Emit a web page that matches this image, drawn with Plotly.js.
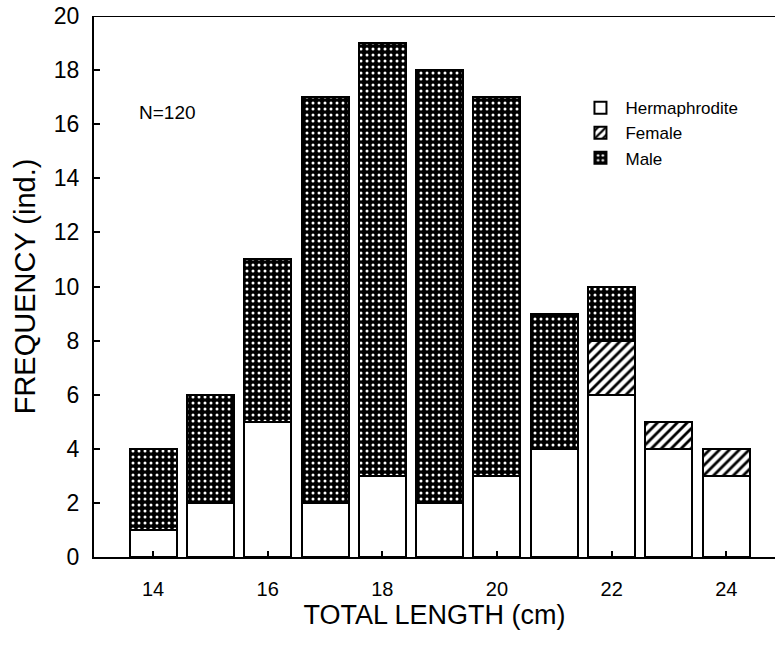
<!DOCTYPE html>
<html>
<head>
<meta charset="utf-8">
<script src="https://cdn.plot.ly/plotly-3.0.1.min.js"></script>
<style>html,body{margin:0;padding:0;background:#fff;}#chart{width:780px;height:649px;}</style>
</head>
<body>
<div id="chart"></div>
<script>
const lengths = [14, 15, 16, 17, 18, 19, 20, 21, 22, 23, 24];
const hermaphrodite = [1, 2, 5, 2, 3, 2, 3, 4, 6, 4, 3];
const female = [0, 0, 0, 0, 0, 0, 0, 0, 2, 1, 1];
const male = [3, 4, 6, 15, 16, 16, 14, 5, 2, 0, 0];
const xTicks = [14, 16, 18, 20, 22, 24];
const yTicks = [0, 2, 4, 6, 8, 10, 12, 14, 16, 18, 20];

const FONT = 'Liberation Sans, Arial, sans-serif';
const lineStyle = {color: '#000', width: 2};

const traces = [
  {type: 'bar', name: 'Hermaphrodite', legendgroup: 'h', x: lengths, y: hermaphrodite, width: 0.82,
   marker: {color: '#fff', line: lineStyle}},
  {type: 'bar', name: 'Female', legendgroup: 'f', x: lengths, y: female, width: 0.82,
   marker: {color: '#fff', line: lineStyle,
            pattern: {shape: '/', bgcolor: '#fff', fgcolor: '#000', size: 7, solidity: 0.4}}},
  {type: 'bar', name: 'Male', legendgroup: 'm', x: lengths, y: male, width: 0.82,
   marker: {color: '#000', line: lineStyle,
            pattern: {shape: '.', bgcolor: '#000', fgcolor: '#fff', size: 6, solidity: 0.2}}}
];

const layout = {
  width: 780, height: 649,
  margin: {l: 94, r: 5, t: 16, b: 92},
  paper_bgcolor: '#fff', plot_bgcolor: '#fff',
  barmode: 'stack',
  font: {family: FONT, color: '#000'},
  showlegend: true,
  legend: {x: 0.707, y: 0.863, xanchor: 'left', yanchor: 'top', traceorder: 'grouped',
           tracegroupgap: 0, font: {size: 17, family: FONT}, bgcolor: 'rgba(0,0,0,0)', itemwidth: 40},
  xaxis: {range: [12.97, 24.85], tickvals: xTicks, ticktext: xTicks.map(String),
          showgrid: false, zeroline: false, showline: true, linecolor: '#000', linewidth: 2,
          ticks: 'inside', ticklen: 6, tickwidth: 2, tickcolor: '#000', ticklabelstandoff: 13,
          tickfont: {size: 20, family: FONT},
          title: {text: 'TOTAL LENGTH (cm)', font: {size: 27, family: FONT}, standoff: 0}},
  yaxis: {range: [0, 20], tickvals: yTicks, ticktext: yTicks.map(String),
          showgrid: false, zeroline: false, showline: true, linecolor: '#000', linewidth: 2,
          ticks: 'inside', ticklen: 6, tickwidth: 2, tickcolor: '#000', ticklabelstandoff: 8,
          tickfont: {size: 23, family: FONT},
          title: {text: 'FREQUENCY (ind.)', font: {size: 29, family: FONT}, standoff: 10}},
  shapes: [
    {type: 'line', xref: 'paper', yref: 'y', x0: 0, x1: 1, y0: 20, y1: 20, line: lineStyle}
  ],
  annotations: [
    {text: 'N=120', xref: 'x', yref: 'y', x: 13.72, y: 16.45, xanchor: 'left', showarrow: false,
     font: {size: 19, family: FONT}}
  ]
};

Plotly.newPlot('chart', traces, layout, {displayModeBar: false, staticPlot: true});
</script>
</body>
</html>
